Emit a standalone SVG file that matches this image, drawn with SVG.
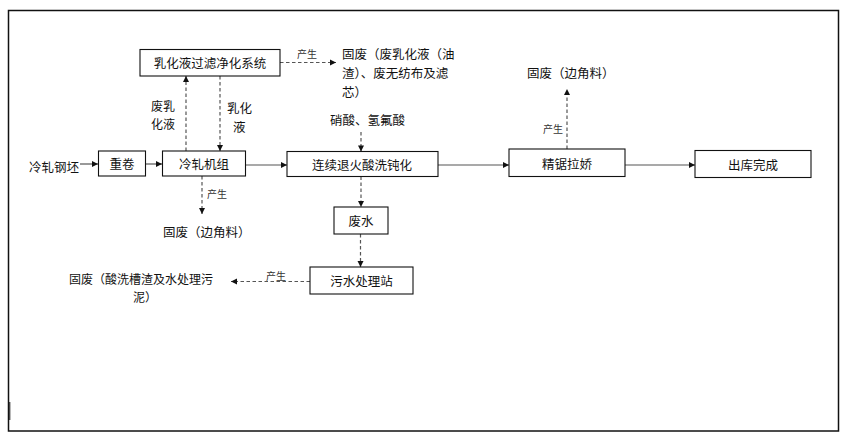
<svg xmlns="http://www.w3.org/2000/svg" width="846" height="443" viewBox="0 0 846 443">
<style>
.box{fill:#fff;stroke:#111;stroke-width:1.1}
.t{font-family:"Noto Sans CJK SC","Liberation Sans",sans-serif;font-size:12.5px;fill:#111;dominant-baseline:central}
.c{text-anchor:middle}
.s{font-family:"Noto Sans CJK SC","Liberation Sans",sans-serif;font-size:10px;fill:#333;dominant-baseline:central}
.solid{stroke:#555;stroke-width:1.2;fill:none}
.dash{stroke:#555;stroke-width:1.2;fill:none;stroke-dasharray:3.5 2.5}
</style>
<defs>
<marker id="ah" markerUnits="userSpaceOnUse" markerWidth="8" markerHeight="8" refX="7" refY="4" orient="auto">
<path d="M1,1 L7,4 L1,7 Z" fill="#111"/>
</marker>
</defs>
<rect x="0" y="0" width="846" height="443" fill="#fff"/>
<rect x="8.5" y="10.5" width="830" height="420.5" fill="none" stroke="#111" stroke-width="1.5"/>
<line x1="9.8" y1="402" x2="9.8" y2="420" stroke="#111" stroke-width="1"/>

<g id="connectors">
<line class="solid" x1="80" y1="164" x2="98" y2="164" marker-end="url(#ah)"/>
<line class="solid" x1="146" y1="164" x2="162" y2="164" marker-end="url(#ah)"/>
<line class="solid" x1="246" y1="165" x2="287" y2="165" marker-end="url(#ah)"/>
<line class="solid" x1="438" y1="165" x2="509" y2="165" marker-end="url(#ah)"/>
<line class="solid" x1="625" y1="165" x2="695" y2="165" marker-end="url(#ah)"/>
<line class="dash" x1="186" y1="151" x2="186" y2="76" marker-end="url(#ah)"/>
<line class="dash" x1="220" y1="76" x2="220" y2="151" marker-end="url(#ah)"/>
<line class="dash" x1="280" y1="62.5" x2="336" y2="62.5" marker-end="url(#ah)"/>
<line class="dash" x1="202" y1="176" x2="202" y2="214" marker-end="url(#ah)"/>
<line class="dash" x1="361" y1="132" x2="361" y2="151.5" marker-end="url(#ah)"/>
<line class="dash" x1="361" y1="176.5" x2="361" y2="207" marker-end="url(#ah)"/>
<line class="dash" x1="360.5" y1="234" x2="360.5" y2="267" marker-end="url(#ah)"/>
<line class="dash" x1="310" y1="281.5" x2="231" y2="281.5" marker-end="url(#ah)"/>
<line class="dash" x1="567" y1="149" x2="567" y2="89" marker-end="url(#ah)"/>
<text class="s" x="297" y="53">产生</text>
<text class="s" x="207" y="193">产生</text>
<text class="s" x="543" y="128">产生</text>
<text class="s" x="266" y="275">产生</text>
</g>

<g id="filter">
<rect class="box" x="140" y="49.5" width="140" height="26.5"/>
<text class="t c" x="210" y="62.5">乳化液过滤净化系统</text>
</g>
<g id="rewind">
<rect class="box" x="98.5" y="151" width="47" height="25"/>
<text class="t c" x="122" y="163.5">重卷</text>
</g>
<g id="coldmill">
<rect class="box" x="162.5" y="151" width="83" height="25"/>
<text class="t c" x="204" y="163.5">冷轧机组</text>
</g>
<g id="anneal">
<rect class="box" x="287" y="151.5" width="151" height="25"/>
<text class="t c" x="362" y="164">连续退火酸洗钝化</text>
</g>
<g id="saw">
<rect class="box" x="509" y="149" width="116" height="27.5"/>
<text class="t c" x="567" y="163">精锯拉娇</text>
</g>
<g id="store">
<rect class="box" x="695" y="150.5" width="116" height="27"/>
<text class="t c" x="753" y="164">出库完成</text>
</g>
<g id="wastewater">
<rect class="box" x="334" y="207" width="54" height="27"/>
<text class="t c" x="361" y="220.5">废水</text>
</g>
<g id="sewage">
<rect class="box" x="310" y="267" width="103" height="27"/>
<text class="t c" x="361.5" y="280.5">污水处理站</text>
</g>

<g id="labels">
<text class="t" x="29" y="166">冷轧钢坯</text>
<text class="t" x="151" y="105.5" style="font-size:12px">废乳</text>
<text class="t" x="151" y="123.5" style="font-size:12px">化液</text>
<text class="t" x="227" y="107">乳化</text>
<text class="t" x="233" y="126.5">液</text>
<text class="t" x="330" y="119">硝酸、氢氟酸</text>
<text class="t" x="342" y="53.5">固废（废乳化液（油</text>
<text class="t" x="342" y="72">渣）、废无纺布及滤</text>
<text class="t" x="342" y="91">芯）</text>
<text class="t" x="527" y="72">固废（边角料）</text>
<text class="t" x="163" y="231">固废（边角料）</text>
<text class="t" x="69" y="278.5" style="font-size:12px">固废（酸洗槽渣及水处理污</text>
<text class="t" x="133" y="296.5" style="font-size:12px">泥）</text>
</g>
</svg>
